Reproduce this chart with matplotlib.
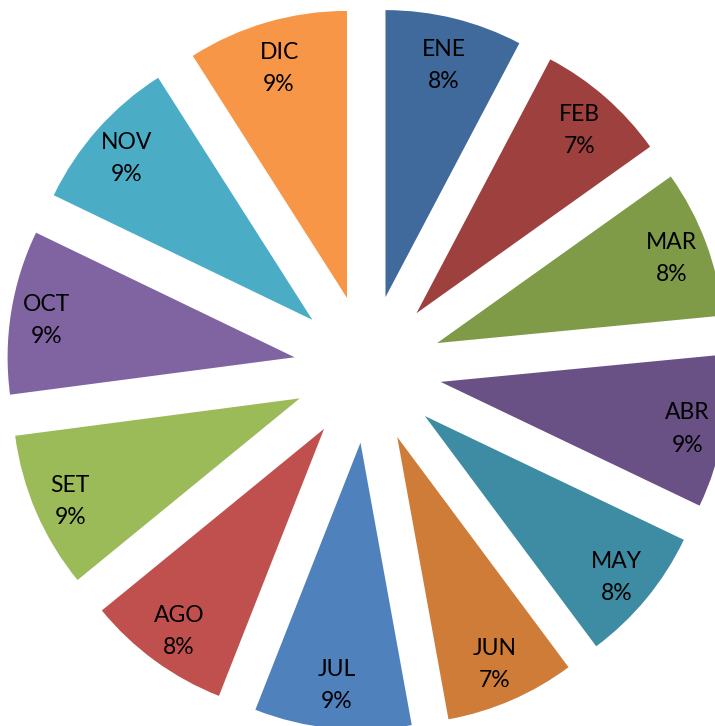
import matplotlib
matplotlib.use("Agg")
import matplotlib.pyplot as plt
import numpy as np

# meses y valores (porcentajes aproximados)
meses = ["ENE", "FEB", "MAR", "ABR", "MAY", "JUN",
         "JUL", "AGO", "SET", "OCT", "NOV", "DIC"]
valores = [7.7, 7.4, 8.3, 8.6, 7.7, 7.3, 8.8, 8.1, 8.8, 9.2, 8.8, 9.0]
etiquetas_pct = ["8%", "7%", "8%", "9%", "8%", "7%",
                 "9%", "8%", "9%", "9%", "9%", "9%"]
colores = ["#40699C", "#9D403E", "#7F9B48", "#695186", "#3E8CA3", "#CF7C39",
           "#4F81BD", "#C0504D", "#9BBB59", "#8064A2", "#4BACC6", "#F79646"]

fig = plt.figure(figsize=(7.15, 7.26), dpi=100)
ax = fig.add_axes([0, 0, 1, 1])

wedges, _ = ax.pie(valores, colors=colores, startangle=90, counterclock=False,
                   explode=[0.258] * len(valores), radius=1,
                   wedgeprops=dict(linewidth=0))

# etiquetas dentro de cada porcion (un poco mas afuera en los costados)
for w, mes, pct in zip(wedges, meses, etiquetas_pct):
    ang = np.deg2rad((w.theta1 + w.theta2) / 2)
    cx, cy = w.center
    d = (0.835 + 0.04 * abs(np.cos(ang))) * w.r
    ax.text(cx + d * np.cos(ang), cy + d * np.sin(ang) - 0.012, mes + "\n" + pct,
            ha="center", va="center", fontsize=16.5, family="Lato",
            linespacing=1.65, color="black")

ax.set_aspect("equal")
ax.set_xlim(-367.7 / 287, (715 - 367.7) / 287)
ax.set_ylim(-(726 - 369) / 287, 369 / 287)
ax.axis("off")

fig.savefig("out.png", dpi=100)
